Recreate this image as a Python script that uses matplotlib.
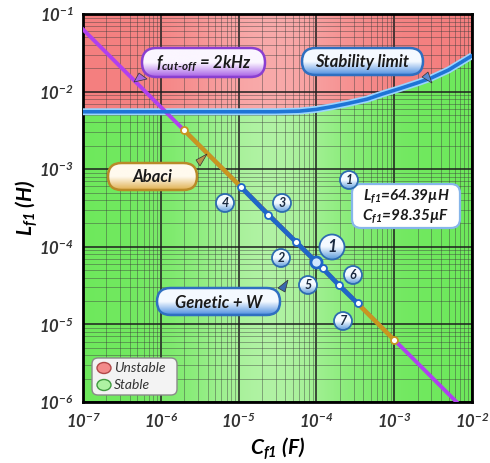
import numpy as np
import matplotlib
matplotlib.use("Agg")
import matplotlib.pyplot as plt
from matplotlib.patches import FancyBboxPatch, Circle, Ellipse, Polygon
from matplotlib.colors import LinearSegmentedColormap
from matplotlib.ticker import LogLocator, FuncFormatter, NullFormatter

plt.rcParams['font.family'] = ['Lato', 'DejaVu Sans']
plt.rcParams['mathtext.fontset'] = 'custom'
plt.rcParams['mathtext.it'] = 'Lato:italic'
plt.rcParams['mathtext.bf'] = 'Lato:italic:bold'
plt.rcParams['mathtext.rm'] = 'Lato:italic:bold'

# f_cut-off = 2 kHz line
cutoff_C = [1e-7, 1e-2]
cutoff_L = [6.33e-2, 6.33e-7]

# abaci segment
abaci_C = [2.0e-6, 1.0e-3]
abaci_L = [3.17e-3, 6.3e-6]

# genetic + W solutions
genetic_C = [1.07e-5, 2.4e-5, 5.4e-5, 9.835e-5, 1.2e-4, 1.95e-4, 3.4e-4]
genetic_L = [5.9e-4, 2.6e-4, 1.17e-4, 6.439e-5, 5.3e-5, 3.2e-5, 1.86e-5]
best_C = 9.835e-5
best_L = 6.439e-5

# stability limit
stab_C = [1e-7, 1e-5, 3e-5, 6e-5, 1e-4, 1.6e-4, 2.5e-4, 4.5e-4, 7e-4,
          1.2e-3, 2e-3, 3e-3, 5e-3, 1e-2]
stab_L = [5.5e-3, 5.5e-3, 5.5e-3, 5.6e-3, 5.9e-3, 6.4e-3, 7.0e-3, 8.0e-3,
          9.3e-3, 1.1e-2, 1.3e-2, 1.5e-2, 1.9e-2, 2.9e-2]

W, H = 490, 463
fig = plt.figure(figsize=(W / 100, H / 100), dpi=100)
ax = fig.add_axes([83 / W, 1 - 402 / H, 389 / W, 388 / H])
ax.set_xscale('log')
ax.set_yscale('log')
ax.set_autoscale_on(False)
ax.set_xlim(1e-7, 1e-2)
ax.set_ylim(1e-6, 1e-1)

# background regions with a soft light band
u = np.linspace(0, 1, 300)
band = 0.7 * np.exp(-((u - 0.48) / 0.22) ** 2)


def region(lo, hi, base, light):
    poly = ax.fill_between(stab_C, lo, hi, facecolor='none', edgecolor='none')
    base = np.array(matplotlib.colors.to_rgb(base))
    light = np.array(matplotlib.colors.to_rgb(light))
    img = base[None, None, :] * (1 - band[None, :, None]) + light[None, None, :] * band[None, :, None]
    im = ax.imshow(img, extent=(0, 1, 0, 1), transform=ax.transAxes,
                   aspect='auto', zorder=0, interpolation='bilinear')
    im.set_clip_path(poly.get_paths()[0], ax.transData)


region(stab_L, 1e-1, '#f47f7f', '#fbbcbc')
region(1e-6, stab_L, '#6ee85c', '#cdf7c2')
ax.set_xlim(1e-7, 1e-2)
ax.set_ylim(1e-6, 1e-1)

for a in (ax.xaxis, ax.yaxis):
    a.set_major_locator(LogLocator(base=10))
    a.set_minor_locator(LogLocator(base=10, subs=np.arange(2, 10)))
    a.set_minor_formatter(NullFormatter())
    a.set_major_formatter(FuncFormatter(lambda v, p: r'$\mathit{10^{%d}}$' % round(np.log10(v))))
ax.grid(which='major', color='#1e1e1e', lw=1.1)
ax.grid(which='minor', color='#3c3c3c', lw=0.6, alpha=0.5)
ax.tick_params(which='both', length=0, labelsize=12, labelcolor='#333333', pad=7)
for s in ax.spines.values():
    s.set_linewidth(2)

ax.set_xlabel(r'$\mathbf{C_{f1}}$ (F)', fontsize=15, fontweight='bold', style='italic', labelpad=3)
ax.set_ylabel(r'$\mathbf{L_{f1}}$ (H)', fontsize=15, fontweight='bold', style='italic')
ax.yaxis.set_label_coords(-0.11, 0.5)

# curves
ax.plot(stab_C, stab_L, color='#9ad4ff', lw=5, zorder=3, solid_capstyle='butt')
ax.plot(stab_C, stab_L, color='#1e74d6', lw=2.6, zorder=3.1)
ax.plot(cutoff_C, cutoff_L, color='#b040f0', lw=2.8, zorder=3)
ax.plot(abaci_C, abaci_L, color='#c8961e', lw=3.2, zorder=3.2,
        marker='o', ms=5, mfc='white', mec='#c8961e', mew=1.3)
ax.plot(genetic_C, genetic_L, color='#1f66c8', lw=3.4, zorder=3.3,
        marker='o', ms=5, mfc='white', mec='#1f66c8', mew=1.3)
ax.plot([best_C], [best_L], 'o', ms=8, mfc='#cfe6ff', mec='#1f66c8', mew=2, zorder=3.4)

# overlay in pixel coordinates for callouts
ov = fig.add_axes([0, 0, 1, 1], zorder=5)
ov.set_autoscale_on(False)
ov.set_xlim(0, W)
ov.set_ylim(H, 0)
ov.axis('off')


def grad_fill(patch, top, bottom, x0, x1, y0, y1, z):
    cmap = LinearSegmentedColormap.from_list('g', [top, top, bottom])
    g = np.linspace(0, 1, 60)[:, None]
    im = ov.imshow(g, extent=(x0, x1, y1, y0), cmap=cmap, aspect='auto',
                   zorder=z, interpolation='bilinear')
    im.set_clip_path(patch)


def pill(x0, y0, x1, y1, text, top, bottom, edge, size=12):
    h = y1 - y0
    box = FancyBboxPatch((x0, y0), x1 - x0, h, boxstyle='round,pad=0,rounding_size=%g' % (h / 2),
                         fc='none', ec=edge, lw=1.8, zorder=6.5)
    ov.add_patch(box)
    grad_fill(box, top, bottom, x0, x1, y0, y1, 6)
    ov.text((x0 + x1) / 2, (y0 + y1) / 2 + 1, text, ha='center', va='center', fontsize=size,
            fontweight='bold', style='italic', color='#1a1a1a', zorder=7)


def pointer(pts, color):
    ov.add_patch(Polygon(pts, closed=True, fc=color, ec='#333333', lw=0.5, zorder=6))


def badge(x, y, txt, r=9, size=9):
    c = Circle((x, y), r, fc='none', ec='#2d6cb0', lw=1.3, zorder=8.5)
    ov.add_patch(c)
    grad_fill(c, '#f4faff', '#5f9ddc', x - r, x + r, y - r, y + r, 8)
    ov.text(x, y, txt, ha='center', va='center', fontsize=size, fontweight='bold',
            style='italic', color='#1a2a40', zorder=9)


pill(142, 48, 265, 77, r'$\mathbf{f_{cut\text{-}off}}$ = 2kHz', '#fbf6ff', '#a760e6', '#8a3fd0', 12)
pointer([(134, 82), (139, 73), (147, 79)], '#a868e0')
pill(302, 48, 423, 75, 'Stability limit', '#f4f9ff', '#4d8ee0', '#2f6fc0', 12)
pointer([(432, 83), (422, 77), (428, 72)], '#5a8ad0')
pill(108, 163, 197, 190, 'Abaci', '#fffaee', '#e0b050', '#b88a28', 12)
pointer([(207, 154), (196, 160), (200, 166)], '#b89048')
pill(157, 288, 280, 315, 'Genetic + W', '#f4f9ff', '#4d8ee0', '#2f6fc0', 12)
pointer([(288, 280), (278, 288), (285, 292)], '#3a6aae')

# result box
rb = FancyBboxPatch((352, 184), 108, 44, boxstyle='round,pad=0,rounding_size=9',
                    fc='white', ec='#86b6ea', lw=1.6, zorder=6)
ov.add_patch(rb)
ov.text(406, 196, r'L$_{\mathbf{f1}}$=64.39µH', ha='center', va='center', fontsize=11,
        fontweight='bold', style='italic', color='#1a1a1a', zorder=7)
ov.text(406, 216, r'C$_{\mathbf{f1}}$=98.35µF', ha='center', va='center', fontsize=11,
        fontweight='bold', style='italic', color='#1a1a1a', zorder=7)

badge(349, 180, '1')
badge(225, 203, '4')
badge(282, 203, '3')
badge(281, 258, '2')
badge(308, 285, '5')
badge(353, 275, '6')
badge(343, 321, '7')
badge(332, 247, '1', r=12.5, size=12)

# legend
lg = FancyBboxPatch((92, 358), 85, 37, boxstyle='round,pad=0,rounding_size=6',
                    fc='#f3f3f3', ec='#8a8a8a', lw=1, zorder=6)
ov.add_patch(lg)
ov.add_patch(Ellipse((104, 368), 14, 11, fc='#f28a8a', ec='#b04848', lw=1, zorder=7))
ov.add_patch(Ellipse((104, 385), 14, 11, fc='#aef2a2', ec='#3f9a3f', lw=1, zorder=7))
ov.text(114, 368, 'Unstable', ha='left', va='center', fontsize=10, style='italic', color='#333333', zorder=7)
ov.text(114, 385, 'Stable', ha='left', va='center', fontsize=10, style='italic', color='#333333', zorder=7)

fig.savefig('out.png', dpi=100)
